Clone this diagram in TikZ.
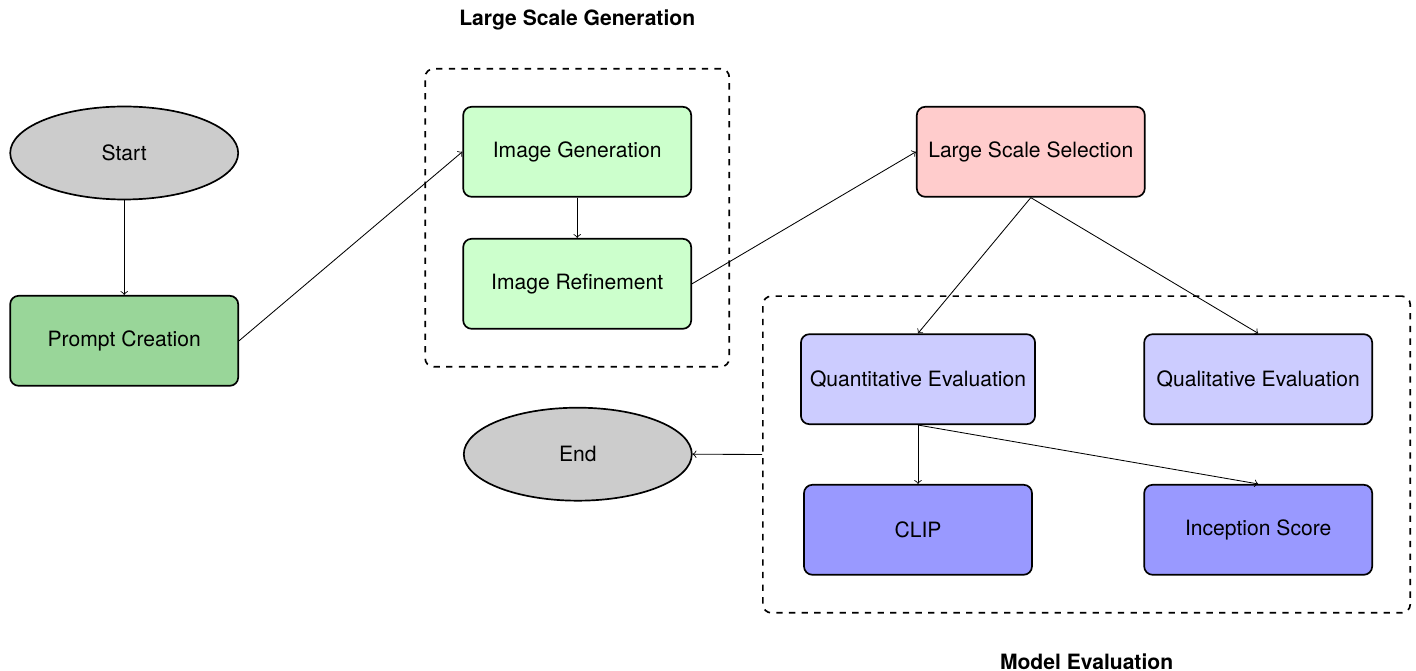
\documentclass[tikz,border=0pt]{standalone}
\usepackage{fontspec}
\setmainfont{TeX Gyre Heros}
\usetikzlibrary{shapes.geometric,fit,positioning}

\definecolor{promptgreen}{RGB}{153,214,153}

\begin{document}
\begin{tikzpicture}[
  terminal/.style={ellipse, draw, thick, fill=gray!40, minimum width=3.8cm, minimum height=1.55cm},
  process/.style={rectangle, rounded corners, draw, thick, inner xsep=4.3pt, minimum width=3.8cm, minimum height=1.5cm},
  group/.style={draw, thick, dashed, rounded corners, inner sep=0.62cm},
  flow/.style={->}
]
\useasboundingbox (0,0) rectangle (23.6,-11.18);

% left column
\node[terminal] (start) at (2.07,-2.55) {Start};
\node[process, fill=promptgreen] (prompt) at (2.07,-5.68) {Prompt Creation};

% generation
\node[process, fill=green!20] (imggen) at (9.62,-2.53) {Image Generation};
\node[process, fill=green!20] (imgref) at (9.62,-4.73) {Image Refinement};
\node[group, fit=(imggen) (imgref)] (gen) {};
\node[above=0.5cm of gen, font=\bfseries] (genlabel) {Large Scale Generation};

\node[process, fill=red!20] (select) at (17.18,-2.53) {Large Scale Selection};

% evaluation
\node[process, fill=blue!20] (quant) at (15.3,-6.32) {Quantitative Evaluation};
\node[process, fill=blue!20] (qual) at (20.97,-6.32) {Qualitative Evaluation};
\node[process, fill=blue!40] (clip) at (15.3,-8.83) {CLIP};
\node[process, fill=blue!40] (incep) at (20.97,-8.83) {Inception Score};
\node[group, fit=(quant) (qual) (clip) (incep)] (eval) {};
\node[below=0.55cm of eval, font=\bfseries] (evallabel) {Model Evaluation};

\node[terminal] (end) at (9.63,-7.57) {End};

% arrows
\draw[flow] (start.south) -- (prompt.north);
\draw[flow] (prompt.east) -- (imggen.west);
\draw[flow] (imggen.south) -- (imgref.north);
\draw[flow] (imgref.east) -- (select.west);
\draw[flow] (select.south) -- (quant.north);
\draw[flow] (select.south) -- (qual.north);
\draw[flow] (quant.south) -- (clip.north);
\draw[flow] (quant.south) -- (incep.north);
\draw[flow] (eval.west) -- (end.east);
\end{tikzpicture}
\end{document}
